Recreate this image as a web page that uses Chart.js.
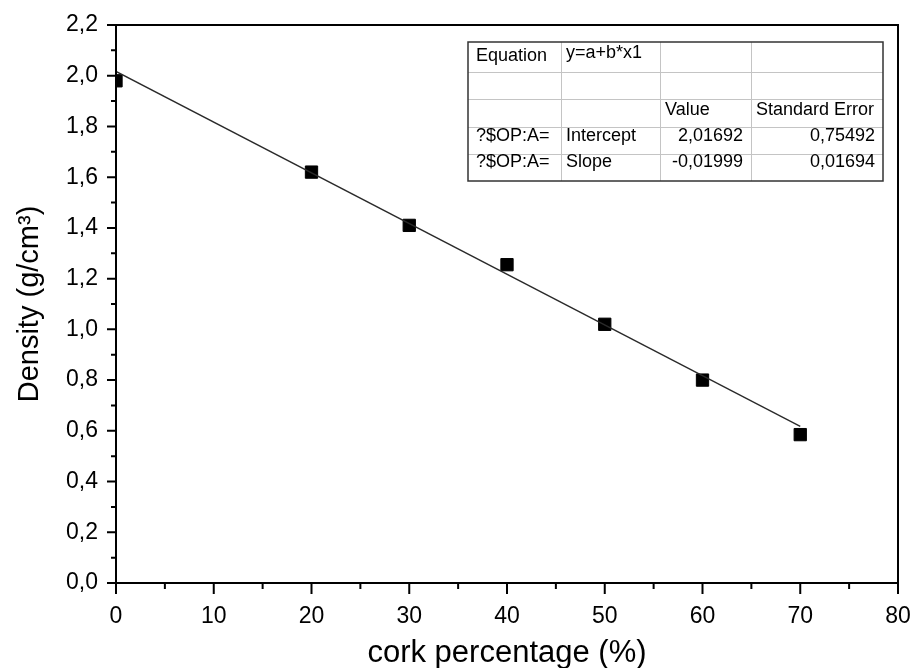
<!DOCTYPE html>
<html>
<head>
<meta charset="utf-8">
<script src="https://cdn.jsdelivr.net/npm/chart.js@4.4.0/dist/chart.umd.min.js"></script>
<style>
  html, body { margin: 0; padding: 0; background: #fff; }
  #wrap { width: 915px; height: 668px; }
</style>
</head>
<body>
<div id="wrap"><canvas id="density-chart" width="915" height="668"></canvas></div>
<script>
const corkPercent = [0, 20, 30, 40, 50, 60, 70];
const density = [1.98, 1.62, 1.41, 1.255, 1.02, 0.80, 0.585];

// Linear fit y = a + b*x, drawn between its end points
const fitX = [0, 70];
const fitY = [2.01692, 0.61762];

// Axis text
const xTitle = 'cork percentage (%)';
const yTitle = 'Density (g/cm³)';

// Fit result box
const fitTableRows = [
  ['Equation', 'y=a+b*x1', '', ''],
  ['', '', '', ''],
  ['', '', 'Value', 'Standard Error'],
  ['?$OP:A=', 'Intercept', '2,01692', '0,75492'],
  ['?$OP:A=', 'Slope', '-0,01999', '0,01694']
];

const FONT = "'Liberation Sans', Arial, Helvetica, sans-serif";

// Box frame plus major/minor tick marks drawn outward
const frameAndTicks = {
  id: 'frameAndTicks',
  afterDraw(chart) {
    const { ctx, chartArea: a, scales: { x, y } } = chart;
    ctx.save();
    ctx.strokeStyle = '#000';
    ctx.lineWidth = 2;
    ctx.strokeRect(a.left, a.top, a.right - a.left, a.bottom - a.top);
    ctx.beginPath();
    x.ticks.forEach(t => {
      const px = x.getPixelForValue(t.value);
      const len = t.value % 10 === 0 ? 11 : 6;
      ctx.moveTo(px, a.bottom);
      ctx.lineTo(px, a.bottom + len);
    });
    y.ticks.forEach(t => {
      const py = y.getPixelForValue(t.value);
      const len = Math.round(t.value * 10) % 2 === 0 ? 9 : 5;
      ctx.moveTo(a.left, py);
      ctx.lineTo(a.left - len, py);
    });
    ctx.stroke();
    ctx.restore();
  }
};

// Parameter table in the upper right corner
const fitTable = {
  id: 'fitTable',
  afterDraw(chart) {
    const { ctx, chartArea: a } = chart;
    const colW = [93, 99, 91, 132];
    const rowH = [30, 27, 27.5, 27.5, 27];
    const width = colW.reduce((s, w) => s + w, 0);
    const height = rowH.reduce((s, h) => s + h, 0);
    const left = a.right - 15 - width;
    const top = a.top + 17;

    ctx.save();
    ctx.fillStyle = '#fff';
    ctx.fillRect(left, top, width, height);

    // inner lines
    ctx.strokeStyle = '#c4c4c4';
    ctx.lineWidth = 1;
    ctx.beginPath();
    let cx = left;
    colW.slice(0, -1).forEach(w => {
      cx += w;
      ctx.moveTo(Math.round(cx) + 0.5, top);
      ctx.lineTo(Math.round(cx) + 0.5, top + height);
    });
    let ry = top;
    rowH.slice(0, -1).forEach(h => {
      ry += h;
      ctx.moveTo(left, Math.round(ry) + 0.5);
      ctx.lineTo(left + width, Math.round(ry) + 0.5);
    });
    ctx.stroke();

    // outer border
    ctx.strokeStyle = '#333';
    ctx.lineWidth = 1.5;
    ctx.strokeRect(left, top, width, height);

    // cell text
    ctx.fillStyle = '#000';
    ctx.font = '18px ' + FONT;
    ctx.textBaseline = 'middle';
    let rowTop = top;
    fitTableRows.forEach((row, r) => {
      let x0 = left;
      const cy = rowTop + rowH[r] / 2 - 1 - r;
      row.forEach((txt, c) => {
        if (txt) {
          const numeric = c >= 2 && r >= 3;
          if (numeric) {
            ctx.textAlign = 'right';
            ctx.fillText(txt, x0 + colW[c] - 8, cy);
          } else {
            ctx.textAlign = 'left';
            ctx.fillText(txt, x0 + (c === 0 ? 8 : 5), c === 1 && r === 0 ? cy - 3 : cy);
          }
        }
        x0 += colW[c];
      });
      rowTop += rowH[r];
    });
    ctx.restore();
  }
};

const ctx = document.getElementById('density-chart').getContext('2d');

new Chart(ctx, {
  type: 'scatter',
  data: {
    datasets: [
      {
        type: 'line',
        label: 'Linear fit',
        data: fitX.map((v, i) => ({ x: v, y: fitY[i] })),
        borderColor: '#2a2a2a',
        borderWidth: 1.3,
        pointRadius: 0,
        fill: false,
        tension: 0
      },
      {
        label: 'Density',
        data: corkPercent.map((v, i) => ({ x: v, y: density[i] })),
        pointStyle: 'rect',
        pointRadius: 8.7,
        backgroundColor: '#000',
        borderColor: '#000',
        borderWidth: 1
      }
    ]
  },
  options: {
    responsive: false,
    animation: false,
    layout: { padding: { top: 25, right: 17, left: 0, bottom: 0 } },
    plugins: {
      legend: { display: false },
      tooltip: { enabled: false }
    },
    scales: {
      x: {
        type: 'linear',
        min: 0,
        max: 80,
        afterFit: s => {
          s.height = 85;
          s.paddingLeft = 0;
          s.paddingRight = 0;
        },
        ticks: {
          stepSize: 5,
          autoSkip: false,
          maxRotation: 0,
          padding: 20,
          color: '#000',
          font: { family: FONT, size: 23 },
          callback: v => (v % 10 === 0 ? String(v) : '')
        },
        grid: { display: true, drawOnChartArea: false, drawTicks: false },
        border: { display: false },
        title: {
          display: true,
          text: xTitle,
          color: '#000',
          font: { family: FONT, size: 31, lineHeight: 1 },
          padding: { top: 0, bottom: -1 }
        }
      },
      y: {
        type: 'linear',
        min: 0,
        max: 2.2,
        afterFit: s => {
          s.width = 116;
          s.paddingTop = 0;
          s.paddingBottom = 0;
        },
        ticks: {
          stepSize: 0.1,
          autoSkip: false,
          padding: 18,
          color: '#000',
          font: { family: FONT, size: 23 },
          callback: v => (Math.round(v * 10) % 2 === 0 ? v.toFixed(1).replace('.', ',') : '')
        },
        grid: { display: true, drawOnChartArea: false, drawTicks: false },
        border: { display: false },
        title: {
          display: true,
          text: yTitle,
          color: '#000',
          font: { family: FONT, size: 29, lineHeight: 1 },
          padding: { top: 15, bottom: 0 }
        }
      }
    }
  },
  plugins: [frameAndTicks, fitTable]
});
</script>
</body>
</html>
